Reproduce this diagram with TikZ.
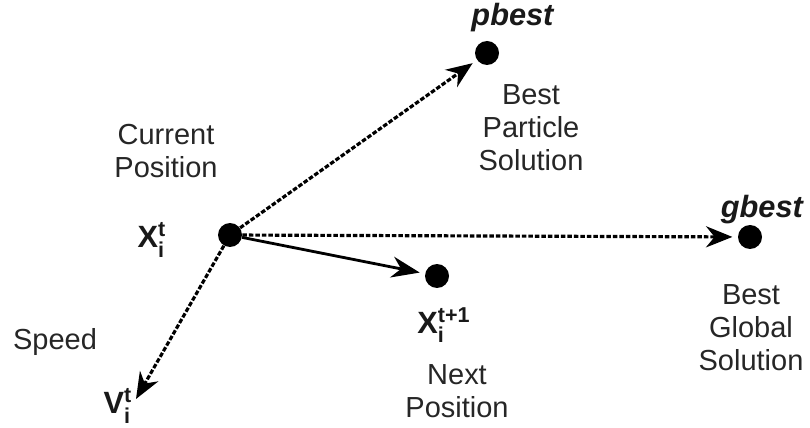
\documentclass[tikz,border=0pt]{standalone}
\usepackage{fontspec}
\setmainfont{Liberation Sans}
\usepackage{amsmath}
\usetikzlibrary{arrows.meta}

\tikzset{
  dot/.style={circle, fill=black, inner sep=0pt, minimum size=0.48cm},
  dashline/.style={line width=1.8pt, dash pattern=on 2.6pt off 1.1pt,
    -{Stealth[length=15pt,width=12pt]}, shorten >=3pt},
  fullline/.style={line width=1.6pt, -{Stealth[length=16pt,width=12pt]}, shorten >=3pt},
  lbl/.style={align=center, font=\fontsize{16.5}{18.8}\selectfont, text=black!85},
  sym/.style={font=\fontsize{17.5}{20}\selectfont\bfseries, text=black!90}
}

\newcommand{\vecsym}[3]{#1$_{\text{\bfseries #2}}^{\text{\bfseries #3}}$}

\begin{document}
\begin{tikzpicture}[x=0.02cm, y=-0.02cm]

    \useasboundingbox (0,0) rectangle (810,428);

    \node (cur) [dot] at (230,235) {};
    \node (pb) [dot] at (487,53) {};
    \node (gb) [dot] at (750,237) {};
    \node (nxt) [dot] at (437,276) {};
    \coordinate (spd) at (136,399);

    \draw [dashline] (cur) -- (pb);
    \draw [dashline] (cur) -- (gb);
    \draw [dashline, shorten >=0pt] (cur) -- (spd);
    \draw [fullline] (cur) -- (nxt);

    \node (pbname) [sym] at (513,18) {\textit{pbest}};
    \node (pbtxt) [lbl] at (531,128) {Best\\Particle\\Solution};

    \node (gbname) [sym, anchor=east, inner sep=1pt] at (806,210) {\textit{gbest}};
    \node (gbtxt) [lbl] at (751,328) {Best\\Global\\Solution};

    \node (curtxt) [lbl] at (166,151) {Current\\Position};
    \node (curname) [sym] at (152,240) {\vecsym{X}{i}{t}};

    \node (nxtname) [sym] at (444,325) {\vecsym{X}{i}{t+1}};
    \node (nxttxt) [lbl] at (457,391) {Next\\Position};

    \node (spdtxt) [lbl] at (55,342) {Speed};
    \node (spdname) [sym] at (118,406) {\vecsym{V}{i}{t}};

\end{tikzpicture}
\end{document}
